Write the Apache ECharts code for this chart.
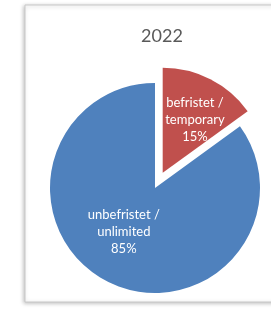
<!DOCTYPE html>
<html>
<head>
<meta charset="utf-8">
<script src="https://cdn.jsdelivr.net/npm/echarts@6/dist/echarts.min.js"></script>
<style>
  html, body { margin: 0; padding: 0; background: #fff; }
  #main { width: 271px; height: 312px; }
</style>
</head>
<body>
<div id="main"></div>
<script>
// data
var title = '2022';
var categories = ['befristet /\ntemporary', 'unbefristet /\nunlimited'];
var shares = [15, 85];
var colors = ['#C0504D', '#4F81BD'];
var labelShift = [[7, -4], [-6, -6]]; // nudge labels to where excel put them

var chart = echarts.init(document.getElementById('main'));
var dataList = categories.map(function (name, i) {
    return {
        value: shares[i],
        name: name,
        selected: i === 0,
        itemStyle: { color: colors[i] }
    };
});

var option = {
    animation: false,
    graphic: [
        {
            type: 'rect',
            shape: { x: 25, y: 5, width: 262, height: 297 },
            style: {
                fill: '#fff',
                stroke: '#c8c8c8',
                lineWidth: 1,
                shadowBlur: 4,
                shadowColor: 'rgba(0,0,0,0.25)',
                shadowOffsetX: -1,
                shadowOffsetY: 1
            },
            z: -10
        }
    ],
    title: {
        text: title,
        left: 157,
        textAlign: 'center',
        top: 22,
        textStyle: {
            fontFamily: 'Lato',
            fontSize: 18,
            fontWeight: 400,
            color: '#595959'
        }
    },
    series: [
        {
            type: 'pie',
            center: [155, 188],
            radius: [0, 105],
            startAngle: 90,
            selectedMode: 'single',
            selectedOffset: 17,
            labelLine: { show: false },
            label: {
                show: true,
                position: 'inside',
                color: '#fff',
                fontFamily: 'Lato',
                fontSize: 13,
                lineHeight: 17,
                formatter: function (p) {
                    return p.name + '\n' + p.value + '%';
                }
            },
            labelLayout: function (params) {
                var s = labelShift[params.dataIndex];
                return { dx: s[0], dy: s[1] };
            },
            emphasis: { disabled: true },
            data: dataList
        }
    ]
};
chart.setOption(option);
</script>
</body>
</html>
